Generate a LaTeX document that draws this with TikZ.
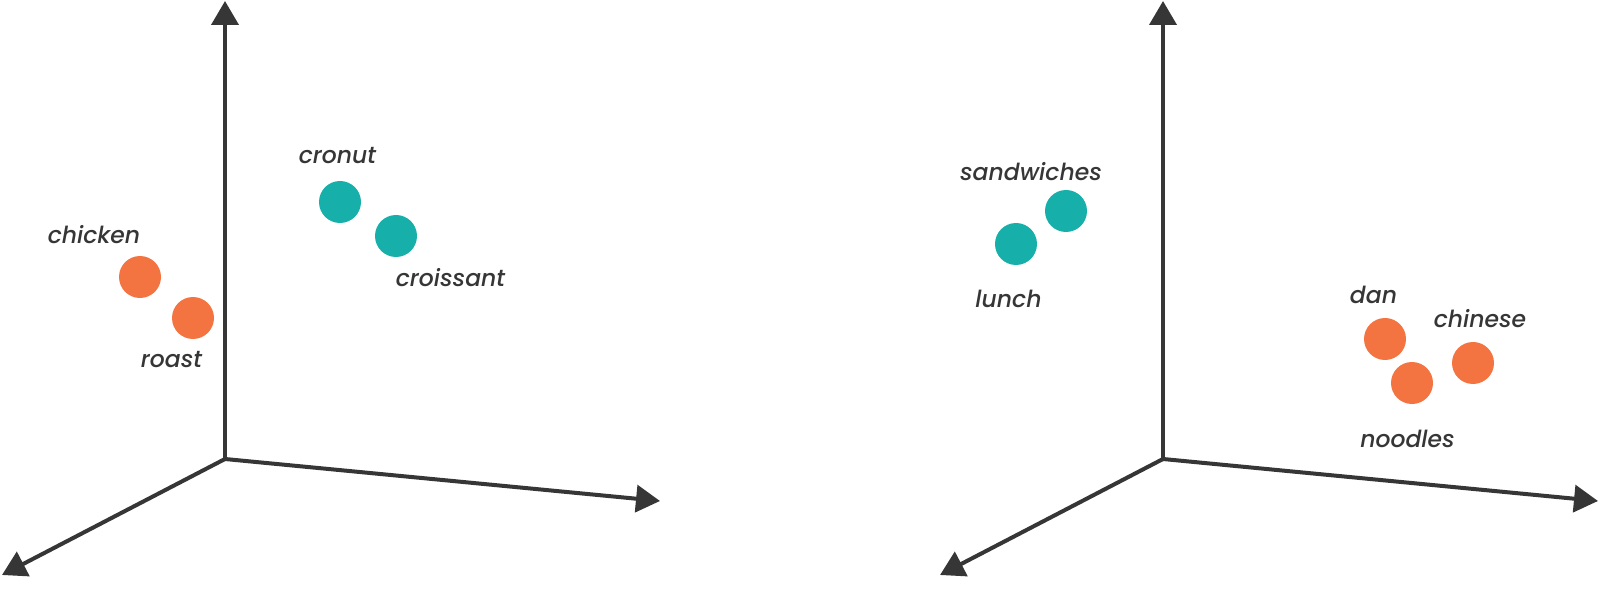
\documentclass[tikz,border=0pt]{standalone}
\usepackage{fontspec}
\setmainfont{Poppins}
\newfontfamily\lblfont{Poppins}[UprightFont=*-Medium, ItalicFont=*-MediumItalic]
\usetikzlibrary{arrows.meta}
\definecolor{axisgray}{HTML}{363636}
\definecolor{dotorange}{HTML}{F37441}
\definecolor{dotteal}{HTML}{16AFAA}
\tikzset{
  axisline/.style={draw=axisgray, line width=4pt, -{Triangle[length=24pt,width=27pt]}},
  odot/.style={circle, fill=dotorange, minimum size=42pt, inner sep=0pt},
  tdot/.style={circle, fill=dotteal, minimum size=42pt, inner sep=0pt},
  lbl/.style={anchor=base, inner sep=0pt, text=axisgray, font=\lblfont\fontsize{23.5}{28}\selectfont\itshape}
}
\begin{document}
\begin{tikzpicture}[x=1pt,y=-1pt]
\useasboundingbox (0,0) rectangle (1600,593);
% left chart axes
\coordinate (O1) at (225,459);
\coordinate (Y1) at (225,1);
\coordinate (X1) at (660,501);
\coordinate (Z1) at (2,575);
\draw[axisline] (O1) -- (Y1);
\draw[axisline] (O1) -- (X1);
\draw[axisline] (O1) -- (Z1);
% right chart axes
\coordinate (O2) at (1163,459);
\coordinate (Y2) at (1163,1);
\coordinate (X2) at (1598,501);
\coordinate (Z2) at (940,575);
\draw[axisline] (O2) -- (Y2);
\draw[axisline] (O2) -- (X2);
\draw[axisline] (O2) -- (Z2);
% left dots
\node[odot] (chicken) at (140,277) {};
\node[odot] (roast) at (193,318) {};
\node[tdot] (cronut) at (340,202) {};
\node[tdot] (croissant) at (396,236) {};
\node[lbl] (chickenL) at (94,244) {chicken};
\node[lbl] (roastL) at (171.5,367) {roast};
\node[lbl] (cronutL) at (337.5,164) {cronut};
\node[lbl] (croissantL) at (450.5,287) {croissant};
% right dots
\node[tdot] (sandwiches) at (1066,211) {};
\node[tdot] (lunch) at (1016,244) {};
\node[odot] (dan) at (1385,339) {};
\node[odot] (noodles) at (1412,383) {};
\node[odot] (chinese) at (1473,363) {};
\node[lbl] (sandwichesL) at (1031,181) {sandwiches};
\node[lbl] (lunchL) at (1008.5,308) {lunch};
\node[lbl] (danL) at (1373.5,304) {dan};
\node[lbl] (chineseL) at (1480,328) {chinese};
\node[lbl] (noodlesL) at (1407.5,447) {noodles};
\end{tikzpicture}
\end{document}
